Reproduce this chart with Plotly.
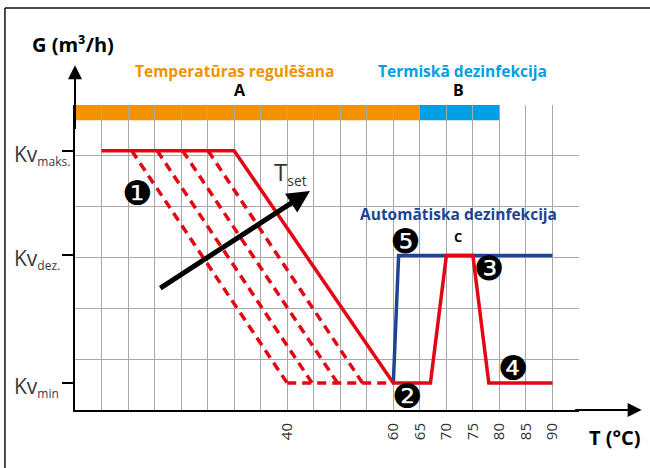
import plotly.graph_objects as go

# ---------------- data ----------------
temp_ticks = [40, 60, 65, 70, 75, 80, 85, 90]
kv_names = ["min", "dez.", "maks."]
kv_values = [0.53, 3.04, 5.1]
KV_MIN, KV_DEZ, KV_MAKS = kv_values

red_x = [5, 30, 60, 67, 70, 75, 78, 90]
red_y = [KV_MAKS, KV_MAKS, KV_MIN, KV_MIN, KV_DEZ, KV_DEZ, KV_MIN, KV_MIN]
blue_x = [60, 61, 90]
blue_y = [KV_MIN, KV_DEZ, KV_DEZ]
dash_top_x = [10.7, 15.5, 20.3, 25.1]
dash_bottom_x = [40, 44.7, 49.5, 54.2]
dash_floor_x = [40, 60]

band_labels = ["A", "B"]
band_titles = ["Temperatūras regulēšana", "Termiskā dezinfekcija"]
band_start = [0, 65]
band_end = [65, 80]
band_colors = ["#f39200", "#009fe3"]
band_title_x = [30, 73]
band_label_x = [31.1, 72.2]

RED = "#e30613"
BLUE = "#1d4596"
GRID = "#a8a8a8"
X_MAX, Y_MAX = 95, 6
BAND_LOW = 5.7

fig = go.Figure()

# dashed family of curves
dx, dy = [], []
for t, b in zip(dash_top_x, dash_bottom_x):
    dx += [t, b, None]
    dy += [KV_MAKS, KV_MIN, None]
dx += dash_floor_x
dy += [KV_MIN, KV_MIN]
fig.add_trace(go.Scatter(x=dx, y=dy, mode="lines",
                         line=dict(color=RED, width=3.5, dash="9px,6px"),
                         hoverinfo="skip", showlegend=False))
fig.add_trace(go.Scatter(x=blue_x, y=blue_y, mode="lines",
                         line=dict(color=BLUE, width=3.5), showlegend=False))
fig.add_trace(go.Scatter(x=red_x, y=red_y, mode="lines",
                         line=dict(color=RED, width=3.5), showlegend=False))

# bands at top
for s, e, c in zip(band_start, band_end, band_colors):
    fig.add_shape(type="rect", xref="x", yref="y", x0=s, x1=e, y0=BAND_LOW, y1=Y_MAX,
                  fillcolor=c, line_width=0, layer="below")

# frame of the picture (top and left edge)
fig.add_shape(type="line", xref="paper", yref="paper", x0=-0.139, x1=1.2, y0=1.318, y1=1.318,
              line=dict(color="#111", width=1.5))
fig.add_shape(type="line", xref="paper", yref="paper", x0=-0.139, x1=-0.139, y0=-0.2, y1=1.318,
              line=dict(color="#111", width=1.5))

ann = []
# axis arrows
ann.append(dict(x=106.8, y=0, ax=94, ay=0, xref="x", yref="y", axref="x", ayref="y",
                text="", showarrow=True, arrowhead=2, arrowsize=1.4, arrowwidth=2, arrowcolor="black"))
ann.append(dict(x=0, y=6.78, ax=0, ay=5.5, xref="x", yref="y", axref="x", ayref="y",
                text="", showarrow=True, arrowhead=2, arrowsize=1.4, arrowwidth=2, arrowcolor="black"))
# Tset arrow
ann.append(dict(x=44.3, y=4.31, ax=15.8, ay=2.38, xref="x", yref="y", axref="x", ayref="y",
                text="", showarrow=True, arrowhead=2, arrowsize=0.9, arrowwidth=5, arrowcolor="black"))
ann.append(dict(x=37.2, y=4.68, xref="x", yref="y", xanchor="left", yanchor="middle",
                text="T<sub><span style='font-size:14px'>set</span></sub>", showarrow=False,
                font=dict(family="Open Sans", size=24, color="#333")))

# Axis titles
ann.append(dict(x=-0.089, y=1.2, xref="paper", yref="paper", xanchor="left", yanchor="middle",
                text="<b>G (m³/h)</b>", showarrow=False,
                font=dict(family="Open Sans", size=20, color="black")))
ann.append(dict(x=1.016, y=-0.09, xref="paper", yref="paper", xanchor="left", yanchor="middle",
                text="<b>T (°C)</b>", showarrow=False,
                font=dict(family="Open Sans", size=20, color="black")))

# band titles and labels (paper coordinates, above the plot area)
for tx, lx, c, t, l in zip(band_title_x, band_label_x, band_colors, band_titles, band_labels):
    ann.append(dict(x=tx / X_MAX, y=6.67 / Y_MAX, xref="paper", yref="paper",
                    xanchor="center", yanchor="middle", text="<b>" + t + "</b>",
                    showarrow=False, font=dict(family="Open Sans", size=15.5, color=c)))
    ann.append(dict(x=lx / X_MAX, y=6.29 / Y_MAX, xref="paper", yref="paper",
                    xanchor="center", yanchor="middle", text="<b>" + l + "</b>",
                    showarrow=False,
                    font=dict(family="Liberation Sans Narrow, Open Sans", size=16, color="black")))

ann.append(dict(x=72.2, y=3.86, xref="x", yref="y", text="<b>Automātiska dezinfekcija</b>",
                showarrow=False, font=dict(family="Open Sans", size=15.5, color=BLUE)))
ann.append(dict(x=72.2, y=3.40, xref="x", yref="y", text="<b>C</b>",
                showarrow=False,
                font=dict(family="Liberation Sans Narrow, Open Sans", size=13, color="black")))

# numbered markers
markers = [("❶", 11.7, 4.27), ("❷", 62.6, 0.28), ("❸", 78.0, 2.79), ("❹", 82.6, 0.83), ("❺", 62.2, 3.32)]
for t, x, y in markers:
    ann.append(dict(x=x, y=y, xref="x", yref="y", text=t, showarrow=False,
                    font=dict(family="DejaVu Sans", size=34, color="black")))

# Kv labels (left aligned)
for n, v in zip(kv_names, kv_values):
    ann.append(dict(x=-0.125, y=v, xref="paper", yref="y", xanchor="left", yanchor="middle",
                    yshift=-4,
                    text="Kv<sub><span style='font-size:12px'>" + n + "</span></sub>", showarrow=False,
                    font=dict(family="Open Sans", size=21, color="#3a3a3a")))

fig.update_layout(
    width=650, height=468,
    margin=dict(l=75, r=71, t=105, b=58),
    paper_bgcolor="white", plot_bgcolor="white",
    showlegend=False,
    annotations=ann,
    xaxis=dict(range=[0, X_MAX], tickvals=temp_ticks, ticktext=[str(v) for v in temp_ticks],
               tickangle=-90, showgrid=True, gridcolor=GRID, gridwidth=1.3,
               minor=dict(tick0=0, dtick=5, showgrid=True, gridcolor=GRID, gridwidth=1.3),
               showline=True, linecolor="black", linewidth=2, zeroline=False,
               ticks="outside", ticklen=5, tickcolor="rgba(0,0,0,0)",
               tickfont=dict(family="Open Sans", size=15, color="#333"), fixedrange=True),
    yaxis=dict(range=[0, Y_MAX], tickvals=kv_values, showticklabels=False,
               showgrid=False, ticks="outside", ticklen=11, tickwidth=2, tickcolor="black",
               minor=dict(tick0=0, dtick=1, showgrid=True, gridcolor=GRID, gridwidth=1.3, ticks=""),
               showline=True, linecolor="black", linewidth=2, zeroline=False, fixedrange=True),
)

fig.write_html("out.html", config={"displayModeBar": False},
               post_script="document.body.style.margin='0px';")
